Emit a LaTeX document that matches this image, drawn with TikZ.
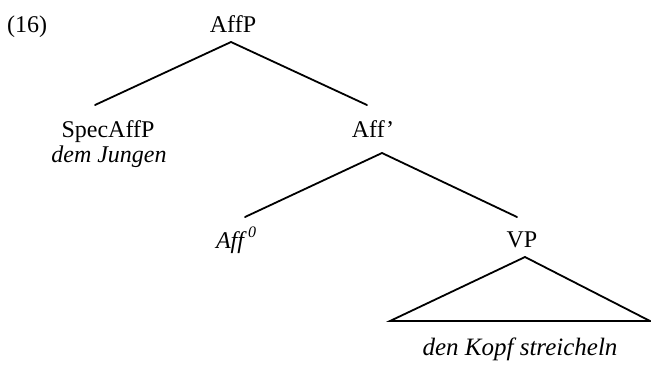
\documentclass[tikz,border=0pt]{standalone}
\usepackage{fontspec}
\setmainfont{Liberation Serif}
\begin{document}
\begin{tikzpicture}[x=1pt,y=-1pt,
  lbl/.style={anchor=base,inner sep=0pt,font=\fontsize{24}{28}\selectfont},
  branch/.style={line width=1.8pt,line cap=round,line join=miter}]
\useasboundingbox (0,0) rectangle (651,365);
% example number
\node[lbl,anchor=base west] (num) at (7,32) {(16)};
% labels
\node[lbl] (affp) at (233,32) {AffP};
\node[lbl] (spec) at (108,137) {SpecAffP};
\node[lbl] (specw) at (109,162) {\itshape dem Jungen};
\node[lbl] (affbar) at (373,137) {Aff’};
\node[lbl] (aff0) at (236,248) {\itshape Aff\,\raisebox{0.45em}{\fontsize{16}{18}\selectfont 0}};
\node[lbl] (vp) at (522,247) {VP};
\node[lbl] (vpw) at (520,355) {\itshape\fontsize{25}{28}\selectfont den Kopf streicheln};
% branch points
\coordinate (affp-b) at (231,42);
\coordinate (spec-t) at (95,105);
\coordinate (affbar-t) at (367,105);
\coordinate (affbar-b) at (382,153);
\coordinate (aff0-t) at (245,217);
\coordinate (vp-t) at (517,217);
\coordinate (vp-b) at (525,257);
\coordinate (tri-l) at (390,321);
\coordinate (tri-r) at (650,321);
% tree
\draw[branch] (spec-t) -- (affp-b) -- (affbar-t);
\draw[branch] (aff0-t) -- (affbar-b) -- (vp-t);
\draw[branch] (tri-l) -- (vp-b) -- (tri-r) -- cycle;
\end{tikzpicture}
\end{document}
